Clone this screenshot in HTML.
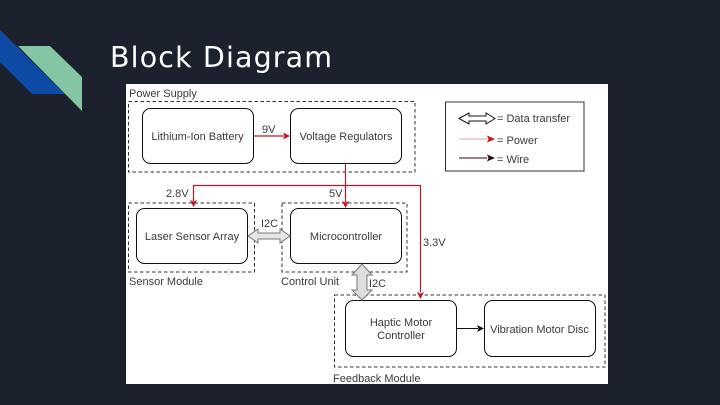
<!DOCTYPE html>
<html><head><meta charset="utf-8">
<style>
html,body{margin:0;padding:0;background:#1b222e;}
svg{display:block;}
text{font-family:"Liberation Sans",sans-serif;fill:#3a3a3a;font-size:11px;}
</style></head>
<body>
<svg width="720" height="405" viewBox="0 0 720 405" xmlns="http://www.w3.org/2000/svg">
<rect width="720" height="405" fill="#1b222e"/>
<polygon points="0,30 65,94 32,94 0,62" fill="#0d4aa6"/>
<polygon points="18,46 50,46 82,77 82,111" fill="#84c5a3"/>
<text x="110" y="67" textLength="222" lengthAdjust="spacing" style="font-family:'DejaVu Sans',sans-serif;font-size:28.500px;fill:#fff;">Block Diagram</text>
<rect x="126" y="84" width="482" height="300" fill="#fff"/>

<g fill="none" stroke="#333" stroke-width="1" stroke-dasharray="3.5 2.5">
<rect x="128.500" y="101.500" width="286.500" height="70.500"/>
<rect x="128.500" y="203" width="126" height="69"/>
<rect x="282" y="203" width="125" height="69"/>
<rect x="334.500" y="295" width="270.500" height="72"/>
</g>
<g fill="#fff" stroke="#111" stroke-width="1">
<rect x="142.500" y="108.500" width="111" height="55" rx="8"/>
<rect x="290.500" y="108.500" width="111" height="55" rx="8"/>
<rect x="136.500" y="208.500" width="111" height="55" rx="8"/>
<rect x="290.500" y="208.500" width="111" height="55" rx="8"/>
<rect x="345.500" y="300.500" width="111" height="56" rx="8"/>
<rect x="484.500" y="300.500" width="111" height="56" rx="8"/>
</g>

<g fill="none" stroke="#bd1a26" stroke-width="1.200">
<path d="M254 136H284"/>
<path d="M345.500 164V202"/>
<path d="M193.500 201V185.500H420.500V292"/>
</g>
<g fill="#d01020">
<polygon points="290,136 283,132.500 284.500,136 283,139.500"/>
<polygon points="345.500,208 342,201 345.500,202.500 349,201"/>
<polygon points="193.500,207 190,200 193.500,201.500 197,200"/>
<polygon points="420.500,299 417,292 420.500,293.500 424,292"/>
</g>
<path d="M457 328.500H478" stroke="#111" stroke-width="1" fill="none"/>
<polygon points="484,328.500 477,325 478.500,328.500 477,332" fill="#111"/>

<polygon points="248,236 258,229 258,233 280,233 280,229 290,236 280,243 280,239 258,239 258,243" fill="#e6e6e6" stroke="#777" stroke-width="1"/>
<polygon points="362,264 372,275 367,275 367,290 372,290 362,300 352,290 357,290 357,275 352,275" fill="#dedede" stroke="#777" stroke-width="1"/>

<rect x="445.500" y="102" width="138.500" height="69" fill="#fff" stroke="#333" stroke-width="1"/>
<polygon points="459,118.500 469,113 469,116 486,116 486,113 495,118.500 486,124 486,121 469,121 469,124" fill="#fff" stroke="#111" stroke-width="1"/>
<path d="M459 139H487" stroke="#e2a0a5" stroke-width="1" fill="none"/>
<polygon points="495,139 487,135.500 488.500,139 487,142.500" fill="#d01020"/>
<path d="M459 158H487" stroke="#2a0a10" stroke-width="1" fill="none"/>
<polygon points="495,158 487,154.500 488.500,158 487,161.500" fill="#2a0a10"/>
<text x="497" y="122">= Data transfer</text>
<text x="497" y="144">= Power</text>
<text x="497" y="163">= Wire</text>

<text x="129" y="97">Power Supply</text>
<text x="197.500" y="140" text-anchor="middle">Lithium-Ion Battery</text>
<text x="346" y="140" text-anchor="middle">Voltage Regulators</text>
<text x="262" y="133">9V</text>
<text x="166" y="197">2.8V</text>
<text x="329" y="197">5V</text>
<text x="192" y="240" text-anchor="middle">Laser Sensor Array</text>
<text x="346" y="240" text-anchor="middle">Microcontroller</text>
<text x="261" y="227">I2C</text>
<text x="423" y="246">3.3V</text>
<text x="129" y="285">Sensor Module</text>
<text x="281" y="285">Control Unit</text>
<text x="369" y="287">I2C</text>
<text x="401" y="326" text-anchor="middle">Haptic Motor</text>
<text x="401" y="339" text-anchor="middle">Controller</text>
<text x="539.500" y="333" text-anchor="middle">Vibration Motor Disc</text>
<text x="333" y="382">Feedback Module</text>
</svg>
</body></html>
